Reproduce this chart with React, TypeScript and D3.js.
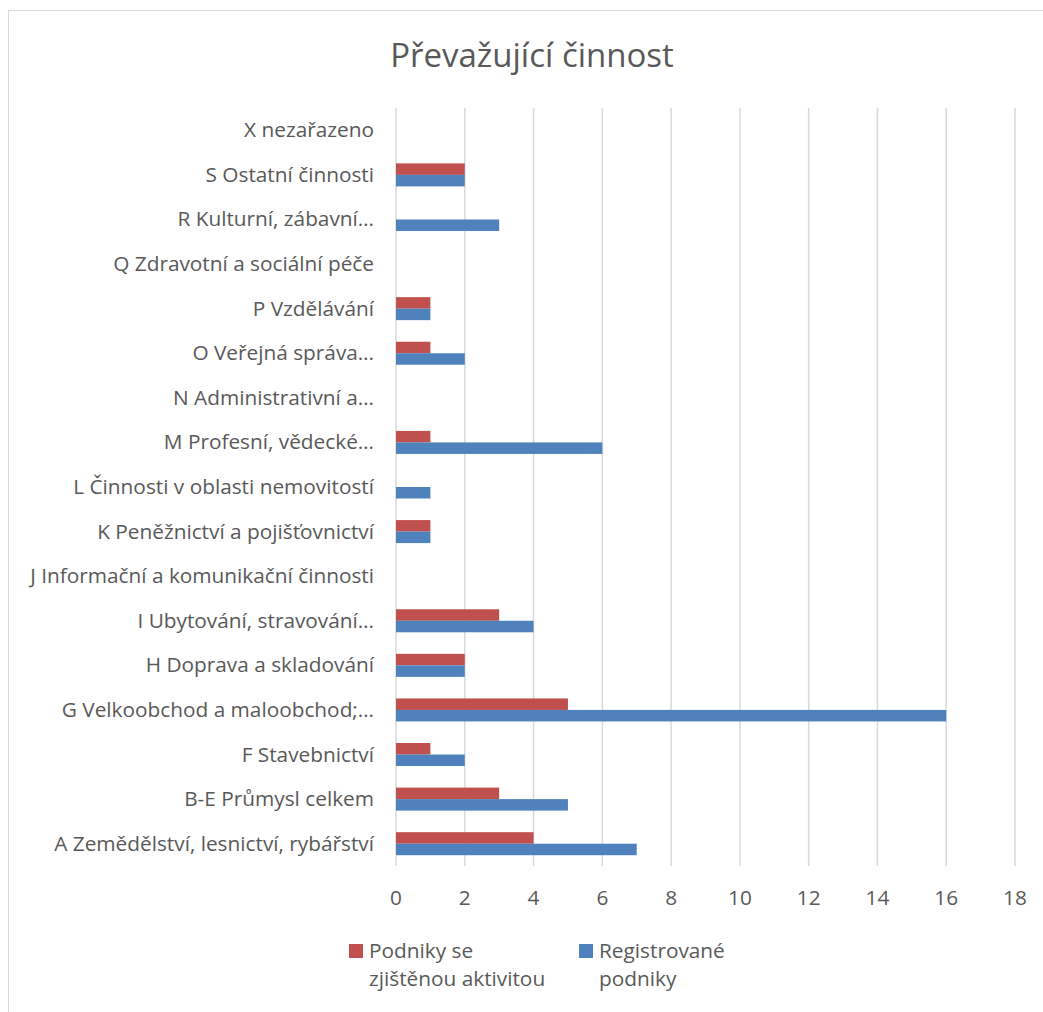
import React from "react";
import * as d3 from "d3";

const categories = [
  "A Zemědělství, lesnictví, rybářství",
  "B-E Průmysl celkem",
  "F Stavebnictví",
  "G Velkoobchod a maloobchod;…",
  "H Doprava a skladování",
  "I Ubytování, stravování…",
  "J Informační a komunikační činnosti",
  "K Peněžnictví a pojišťovnictví",
  "L Činnosti v oblasti nemovitostí",
  "M Profesní, vědecké…",
  "N Administrativní a…",
  "O Veřejná správa…",
  "P Vzdělávání",
  "Q Zdravotní a sociální péče",
  "R Kulturní, zábavní…",
  "S Ostatní činnosti",
  "X nezařazeno",
];
const aktivni = [4, 3, 1, 5, 2, 3, 0, 1, 0, 1, 0, 1, 1, 0, 0, 2, 0];
const registrovane = [7, 5, 2, 16, 2, 4, 0, 1, 1, 6, 0, 2, 1, 0, 3, 2, 0];
const xTicks = [0, 2, 4, 6, 8, 10, 12, 14, 16, 18];
const RED = "#C0504D";
const BLUE = "#4F81BD";

export default function App() {
  const W = 1043, H = 1012;
  const left = 396, right = 1015, top = 108, bottom = 866;
  const font = "'Open Sans', sans-serif";
  const fs = 20.8;
  const x = d3.scaleLinear().domain([0, 18]).range([left, right]);
  const y = d3.scaleBand<number>().domain(d3.range(categories.length).reverse()).range([top, bottom]);
  const barH = 11.5;
  return (
    <svg width={W} height={H} style={{ position: "absolute", left: 0, top: 0, background: "#fff" }} fontFamily={font}>
      <rect x={8.5} y={10.5} width={W + 10} height={H + 10} fill="#fff" stroke="#d9d9d9" strokeWidth={1} />
      <text x={532} y={67} textAnchor="middle" fontSize={33} fill="#595959">Převažující činnost</text>
      {xTicks.map((t) => (
        <g key={t}>
          <line x1={x(t)} x2={x(t)} y1={top} y2={bottom} stroke="#d9d9d9" strokeWidth={1.5} />
          <text x={x(t)} y={905} textAnchor="middle" fontSize={fs} fill="#595959">{t}</text>
        </g>
      ))}
      {categories.map((c, i) => {
        const cy = (y(i) as number) + y.bandwidth() / 2;
        return (
          <g key={c}>
            <text x={374} y={cy + 7} textAnchor="end" fontSize={fs} fill="#595959">{c}</text>
            {aktivni[i] > 0 && (
              <rect x={x(0)} y={cy - barH} width={x(aktivni[i]) - x(0)} height={barH} fill={RED} />
            )}
            {registrovane[i] > 0 && (
              <rect x={x(0)} y={cy} width={x(registrovane[i]) - x(0)} height={barH} fill={BLUE} />
            )}
          </g>
        );
      })}
      <rect x={349} y={944} width={14} height={14} fill={RED} />
      <text x={369} y={958} fontSize={fs} fill="#595959">
        <tspan x={369}>Podniky se</tspan>
        <tspan x={369} dy={28}>zjištěnou aktivitou</tspan>
      </text>
      <rect x={579} y={944} width={14} height={14} fill={BLUE} />
      <text x={599} y={958} fontSize={fs} fill="#595959">
        <tspan x={599}>Registrované</tspan>
        <tspan x={599} dy={28}>podniky</tspan>
      </text>
    </svg>
  );
}
